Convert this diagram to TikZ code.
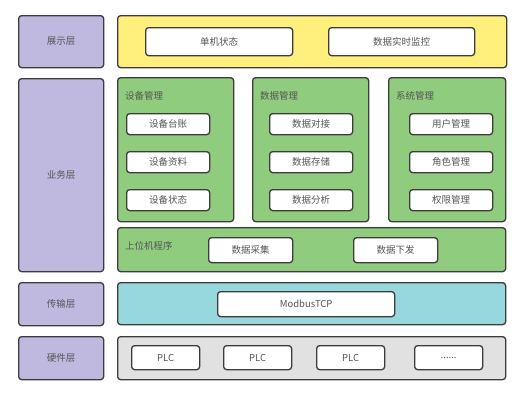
\documentclass[tikz,border=0pt]{standalone}
\usepackage{fontspec}
\setmainfont{Noto Sans CJK SC}
\usetikzlibrary{positioning}
\definecolor{cEdge}{HTML}{3C3C3C}
\definecolor{cTxt}{HTML}{555555}
\definecolor{cLayer}{HTML}{BFB8DF}
\definecolor{cShow}{HTML}{FFEF7C}
\definecolor{cBiz}{HTML}{90CC7E}
\definecolor{cTrans}{HTML}{97D8DE}
\definecolor{cHard}{HTML}{E1E1E1}
\tikzset{
  base/.style   ={rounded corners=3pt, draw=cEdge, line width=1.3pt, align=center,
                  font=\fontsize{9.5}{11}\selectfont, text=cTxt, inner sep=0pt,
                  anchor=north west},
  layer/.style  ={base, fill=cLayer},
  show/.style   ={base, fill=cShow},
  biz/.style    ={base, fill=cBiz},
  trans/.style  ={base, fill=cTrans},
  hard/.style   ={base, fill=cHard},
  item/.style   ={base, fill=white},
  glbl/.style   ={font=\fontsize{9.5}{11}\selectfont, text=cTxt, inner sep=0pt, anchor=west},
}
\begin{document}
\begin{tikzpicture}[x=1pt, y=-1pt]
\useasboundingbox (0,0) rectangle (520,400);

% layer names
\node[layer, minimum width=85, minimum height=52]  (lShow)  at (18,15)  {展示层};
\node[layer, minimum width=85, minimum height=193] (lBiz)   at (18,78)  {业务层};
\node[layer, minimum width=85, minimum height=43]  (lTrans) at (18,282) {传输层};
\node[layer, minimum width=85, minimum height=43]  (lHard)  at (18,336) {硬件层};

% display layer
\node[show, minimum width=389, minimum height=52] (show) at (117,15) {};
\node[item, minimum width=147, minimum height=28] (single)  at (145,27) {单机状态};
\node[item, minimum width=146, minimum height=28] (monitor) at (328,27) {数据实时监控};

% business layer
\node[biz, minimum width=116, minimum height=144] (dev)  at (117,77) {};
\node[biz, minimum width=116, minimum height=144] (data) at (252,77) {};
\node[biz, minimum width=117, minimum height=144] (sys)  at (388,77) {};
\node[glbl] (devT)  at ([shift={(8,19)}]dev.north west)  {设备管理};
\node[glbl] (dataT) at ([shift={(8,19)}]data.north west) {数据管理};
\node[glbl] (sysT)  at ([shift={(8,19)}]sys.north west)  {系统管理};

\node[item, minimum width=83, minimum height=21] (d1) at (126,113) {设备台账};
\node[item, minimum width=83, minimum height=21] (d2) at (126,151) {设备资料};
\node[item, minimum width=83, minimum height=21] (d3) at (126,189) {设备状态};
\node[item, minimum width=83, minimum height=21] (m1) at (269,113) {数据对接};
\node[item, minimum width=83, minimum height=21] (m2) at (269,151) {数据存储};
\node[item, minimum width=83, minimum height=21] (m3) at (269,189) {数据分析};
\node[item, minimum width=83, minimum height=21] (s1) at (409,113) {用户管理};
\node[item, minimum width=83, minimum height=21] (s2) at (409,151) {角色管理};
\node[item, minimum width=83, minimum height=21] (s3) at (409,189) {权限管理};

\node[biz, minimum width=388, minimum height=44] (host) at (117,227) {};
\node[glbl] (hostT) at ([shift={(8,19)}]host.north west) {上位机程序};
\node[item, minimum width=84, minimum height=25] (collect) at (208,237) {数据采集};
\node[item, minimum width=84, minimum height=25] (issue)   at (353,237) {数据下发};

% transport layer
\node[trans, minimum width=388, minimum height=42] (trans) at (117,282) {};
\node[item, minimum width=177, minimum height=25] (modbus) at (217,291) {ModbusTCP};

% hardware layer
\node[hard, minimum width=388, minimum height=43] (hard) at (117,336) {};
\node[item, minimum width=68, minimum height=24] (plc1) at (131,345) {PLC};
\node[item, minimum width=68, minimum height=24] (plc2) at (223,345) {PLC};
\node[item, minimum width=68, minimum height=24] (plc3) at (316,345) {PLC};
\node[item, minimum width=68, minimum height=24] (more) at (414,345) {......};
\end{tikzpicture}
\end{document}
